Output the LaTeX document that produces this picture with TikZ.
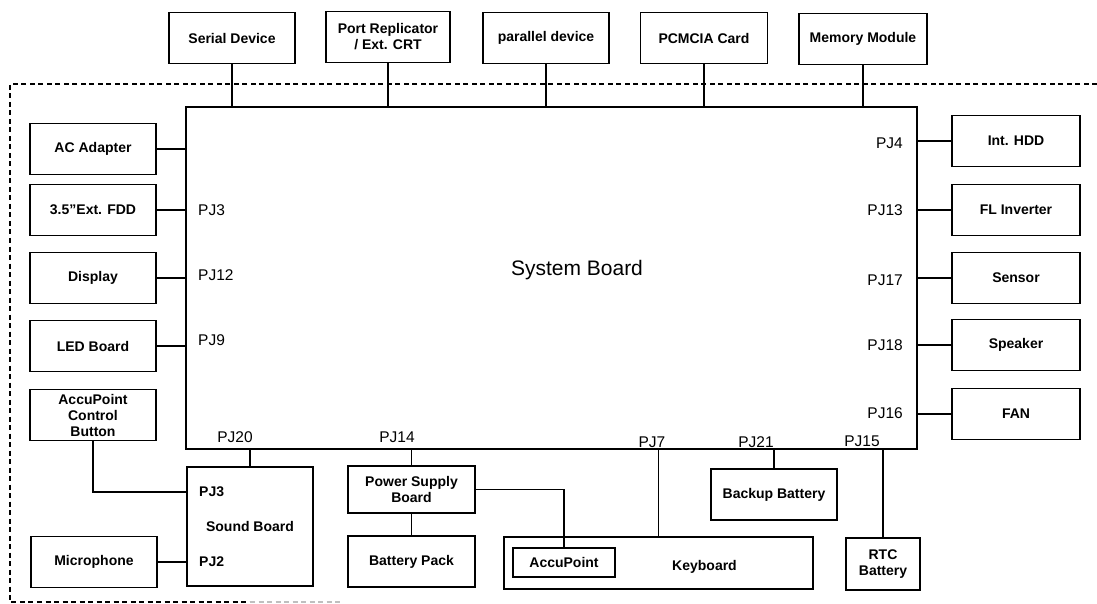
\documentclass[tikz,border=0pt]{standalone}
\usepackage{fontspec}
\setmainfont{Liberation Sans}

\begin{document}
\begin{tikzpicture}[x=1pt, y=-1pt,
  boxfont/.style={font=\fontsize{14}{16}\selectfont\bfseries},
  box/.style={draw, line width=1.7pt, minimum width=126pt, minimum height=51pt,
    inner sep=0pt, align=center, boxfont},
  pj/.style={font=\fontsize{15.5}{18}\selectfont, inner sep=0pt},
  wire/.style={line width=1.3pt}]
\useasboundingbox (0,0) rectangle (1097,604);

% system board
\node[draw, line width=1.5pt, minimum width=731pt, minimum height=342pt] (board) at (551.5,278) {};
\node[font=\fontsize{21}{24}\selectfont] (title) at (577,270) {System Board};

% devices above
\node[box] (serial) at (232,38) {Serial Device};
\node[box, minimum width=124pt] (port) at (388,37) {Port Replicator\\/ Ext. CRT};
\node[box] (parallel) at (546,38) {parallel device};
\node[box, minimum width=127pt] (pcmcia) at (704,38) {PCMCIA Card};
\node[box, minimum width=128pt] (memory) at (863,39) {Memory Module};
\foreach \n in {serial,port,parallel,pcmcia,memory}
  \draw[wire] (\n.south) -- (\n.south |- board.north);

% devices left
\node[box] (ac) at (93,149) {AC Adapter};
\node[box] (fdd) at (93,210) {3.5\symbol{34}Ext. FDD};
\node[box] (display) at (93,278) {Display};
\node[box] (led) at (93,346) {LED Board};
\node[box] (acb) at (93,415) {AccuPoint\\Control\\Button};
\foreach \n in {ac,fdd,display,led}
  \draw[wire] (\n.east) -- (\n.east -| board.west);

% devices right
\node[box, minimum width=128pt] (hdd) at (1016,141) {Int. HDD};
\node[box, minimum width=128pt] (fl) at (1016,210) {FL Inverter};
\node[box, minimum width=128pt] (sensor) at (1016,278) {Sensor};
\node[box, minimum width=128pt] (speaker) at (1016,345) {Speaker};
\node[box, minimum width=128pt] (fan) at (1016,414) {FAN};
\foreach \n in {hdd,fl,sensor,speaker,fan}
  \draw[wire] (\n.west) -- (\n.west -| board.east);

% connector names
\node[pj, anchor=west] (pj3) at (198,210) {PJ3};
\node[pj, anchor=west] (pj12) at (198,275) {PJ12};
\node[pj, anchor=west] (pj9) at (198,340) {PJ9};
\node[pj, anchor=east] (pj4) at (903,143) {PJ4};
\node[pj, anchor=east] (pj13) at (903,210) {PJ13};
\node[pj, anchor=east] (pj17) at (903,280) {PJ17};
\node[pj, anchor=east] (pj18) at (903,345) {PJ18};
\node[pj, anchor=east] (pj16) at (903,413) {PJ16};
\node[pj] (pj20) at (235,437) {PJ20};
\node[pj] (pj14) at (397,437) {PJ14};
\node[pj] (pj7) at (652,442) {PJ7};
\node[pj] (pj21) at (756,442) {PJ21};
\node[pj] (pj15) at (862,441) {PJ15};

% devices below
\node[box, minimum height=119pt] (sound) at (250,526.5) {Sound Board};
\node[boxfont, inner sep=0pt, anchor=west] (spj3) at (199,492) {PJ3};
\node[boxfont, inner sep=0pt, anchor=west] (spj2) at (199,562) {PJ2};
\node[box] (mic) at (94,562) {Microphone};
\node[box, minimum width=127pt, minimum height=47pt] (psb) at (411.5,489.5) {Power Supply\\Board};
\node[box, minimum width=127pt] (pack) at (411.5,561.5) {Battery Pack};
\node[box, minimum width=309pt, minimum height=52pt,
  label={[boxfont, xshift=46pt, yshift=-4pt]center:Keyboard}] (kb) at (658.5,563) {};
\node[box, minimum width=102pt, minimum height=29pt] (ap) at (564,562.5) {AccuPoint};
\node[box] (backup) at (774,494.5) {Backup Battery};
\node[box, minimum width=74pt, minimum height=52pt] (rtc) at (883,564) {RTC\\Battery};

\foreach \n in {sound,psb,kb,backup,rtc}
  \draw[wire] (\n.north) -- (\n.north |- board.south);
\draw[wire] (acb.south) |- (sound.west |- spj3);
\draw[wire] (mic.east) -- (mic.east -| sound.west);
\draw[wire] (psb.south) -- (pack.north);
\draw[wire] (psb.east) -| (ap.north);

% notebook outline
\draw[line width=1.3pt, dash pattern=on 5pt off 3.5pt] (1097,84) -- (10,84) -- (10,602) -- (250,602);
\draw[line width=1.3pt, dash pattern=on 5pt off 3.5pt, gray!50] (250,602) -- (340,602);
\end{tikzpicture}
\end{document}
